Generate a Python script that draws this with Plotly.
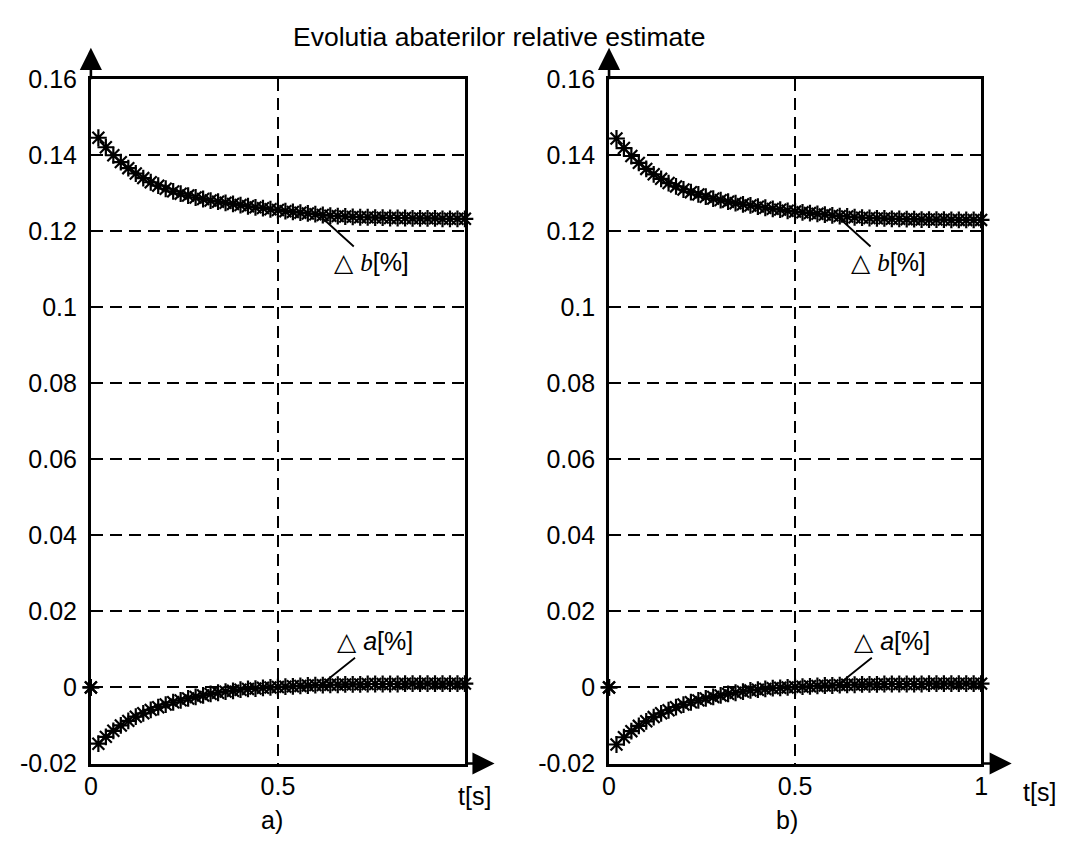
import plotly.graph_objects as go

# Sampling instants [s]
t = [0.00, 0.02, 0.04, 0.06, 0.08, 0.10, 0.12, 0.14, 0.16, 0.18, 0.20,
     0.22, 0.24, 0.26, 0.28, 0.30, 0.32, 0.34, 0.36, 0.38, 0.40,
     0.42, 0.44, 0.46, 0.48, 0.50, 0.52, 0.54, 0.56, 0.58, 0.60,
     0.62, 0.64, 0.66, 0.68, 0.70, 0.72, 0.74, 0.76, 0.78, 0.80,
     0.82, 0.84, 0.86, 0.88, 0.90, 0.92, 0.94, 0.96, 0.98, 1.00]

# Panel a) relative deviations of the estimates [%]
db_a = [0.0000,
        0.1445, 0.1420, 0.1399, 0.1381, 0.1365, 0.1351, 0.1339, 0.1328, 0.1319, 0.1311,
        0.1304, 0.1298, 0.1293, 0.1288, 0.1284, 0.1280, 0.1277, 0.1274, 0.1271, 0.1268,
        0.1265, 0.1262, 0.1260, 0.1257, 0.1255, 0.1252, 0.1250, 0.1248, 0.1246, 0.1244,
        0.1242, 0.1240, 0.1239, 0.1238, 0.1237, 0.1236, 0.1236, 0.1235, 0.1235, 0.1234,
        0.1234, 0.1234, 0.1233, 0.1233, 0.1233, 0.1233, 0.1232, 0.1232, 0.1232, 0.1232]
da_a = [0.0000,
        -0.0148, -0.0130, -0.0114, -0.0100, -0.0088, -0.0077, -0.0068, -0.0059, -0.0052, -0.0045,
        -0.0039, -0.0034, -0.0029, -0.0025, -0.0021, -0.0017, -0.0014, -0.0011, -0.0009, -0.0006,
        -0.0004, -0.0003, -0.0001, 0.0000, 0.0001, 0.0002, 0.0003, 0.0004, 0.0005, 0.0006,
        0.0006, 0.0007, 0.0007, 0.0008, 0.0008, 0.0008, 0.0009, 0.0009, 0.0009, 0.0009,
        0.0009, 0.0010, 0.0010, 0.0010, 0.0010, 0.0010, 0.0010, 0.0010, 0.0010, 0.0010]

# Panel b) relative deviations of the estimates [%]
db_b = [0.0000,
        0.1443, 0.1418, 0.1397, 0.1379, 0.1363, 0.1349, 0.1337, 0.1326, 0.1317, 0.1309,
        0.1302, 0.1296, 0.1290, 0.1285, 0.1281, 0.1277, 0.1273, 0.1270, 0.1267, 0.1264,
        0.1261, 0.1258, 0.1256, 0.1253, 0.1251, 0.1249, 0.1247, 0.1245, 0.1243, 0.1241,
        0.1239, 0.1238, 0.1236, 0.1235, 0.1234, 0.1233, 0.1233, 0.1232, 0.1232, 0.1231,
        0.1231, 0.1230, 0.1230, 0.1230, 0.1230, 0.1229, 0.1229, 0.1229, 0.1229, 0.1229]
da_b = [0.0000,
        -0.0150, -0.0131, -0.0115, -0.0101, -0.0089, -0.0078, -0.0068, -0.0060, -0.0052, -0.0045,
        -0.0039, -0.0034, -0.0029, -0.0025, -0.0021, -0.0017, -0.0014, -0.0011, -0.0008, -0.0006,
        -0.0004, -0.0002, -0.0001, 0.0000, 0.0001, 0.0002, 0.0003, 0.0004, 0.0005, 0.0005,
        0.0006, 0.0007, 0.0007, 0.0008, 0.0008, 0.0008, 0.0009, 0.0009, 0.0009, 0.0009,
        0.0009, 0.0009, 0.0010, 0.0010, 0.0010, 0.0010, 0.0010, 0.0010, 0.0010, 0.0010]

y_ticks = [-0.02, 0, 0.02, 0.04, 0.06, 0.08, 0.1, 0.12, 0.14, 0.16]
y_labels = ["-0.02", "0", "0.02", "0.04", "0.06", "0.08", "0.1", "0.12", "0.14", "0.16"]

W, H = 1073, 851
FONT = "Liberation Sans, Arial, sans-serif"

# pixel layout of the two panels
left_dom = [85 / W, 464 / W]
right_dom = [610 / W, 987 / W]
y_dom = [1 - 775 / H, 1 - 67 / H]

marker = dict(symbol="asterisk-open", size=14, color="black",
              line=dict(color="black", width=2.2))

fig = go.Figure()
for xa, ya, b_vals, a_vals in (("x", "y", db_a, da_a), ("x2", "y2", db_b, da_b)):
    for vals in (b_vals, a_vals):
        fig.add_trace(go.Scatter(x=t, y=vals, mode="markers", marker=marker,
                                 xaxis=xa, yaxis=ya, cliponaxis=False,
                                 showlegend=False, hoverinfo="skip"))

axis_common = dict(showline=True, linecolor="black", linewidth=2.8, mirror=True,
                   showgrid=True, gridcolor="black", gridwidth=2,
                   griddash="12px,7px", zeroline=False,
                   tickfont=dict(family=FONT, size=25, color="black"),
                   ticks="", fixedrange=True)

fig.update_layout(
    width=W, height=H,
    margin=dict(l=0, r=0, t=0, b=0),
    paper_bgcolor="white", plot_bgcolor="white",
    xaxis=dict(domain=left_dom, range=[0, 1], tickvals=[0, 0.5], ticktext=["0", "0.5"],
               anchor="y", ticklabelstandoff=-1, **axis_common),
    yaxis=dict(domain=y_dom, range=[-0.02, 0.16], tickvals=y_ticks, ticktext=y_labels,
               anchor="x", ticklabelstandoff=6, **axis_common),
    xaxis2=dict(domain=right_dom, range=[0, 1], tickvals=[0, 0.5, 1],
                ticktext=["0", "0.5", "1"], anchor="y2", ticklabelstandoff=-1, **axis_common),
    yaxis2=dict(domain=y_dom, range=[-0.02, 0.16], tickvals=y_ticks, ticktext=y_labels,
                anchor="x2", ticklabelstandoff=6, **axis_common),
)

txt = dict(family=FONT, size=25, color="black")
ann = []

# title
ann.append(dict(text="Evolutia abaterilor relative estimate", xref="paper", yref="paper",
                x=499 / W, y=1 - 24 / H, showarrow=False,
                font=dict(family=FONT, size=26.5, color="black"),
                xanchor="center", yanchor="middle"))

# axis arrows and axis labels for both panels
for xr, yr, x_tip_px, tlab_px, sub_px, sub in (("x", "y", 494, (474, 809), (268, 833), "a)"),
                                               ("x2", "y2", 1018, (1046, 804), (790, 833), "b)")):
    ann.append(dict(xref=xr + " domain", yref="paper", x=0, y=1 - 35 / H,
                    ax=0, ay=33, showarrow=True, arrowhead=2, arrowsize=1.7,
                    arrowwidth=2.6, arrowcolor="black", text=""))
    ann.append(dict(xref="paper", yref="paper", x=x_tip_px / W, y=1 - 775 / H,
                    ax=-31, ay=0, showarrow=True, arrowhead=2, arrowsize=1.7,
                    arrowwidth=2.6, arrowcolor="black", text=""))
    ann.append(dict(xref="paper", yref="paper", x=tlab_px[0] / W, y=1 - tlab_px[1] / H,
                    text="t[s]", showarrow=False, font=txt,
                    xanchor="center", yanchor="middle"))
    ann.append(dict(xref="paper", yref="paper", x=sub_px[0] / W, y=1 - sub_px[1] / H,
                    text=sub, showarrow=False, font=txt,
                    xanchor="center", yanchor="middle"))

    # curve labels with pointer lines
    ann.append(dict(xref=xr, yref=yr, x=0.612, y=0.1240, axref=xr, ayref=yr,
                    ax=0.75, ay=0.1117,
                    text="<span style='font-family:DejaVu Sans'>△</span> "
                         "<i><span style='font-family:Liberation Serif'>b</span></i>[%]",
                    showarrow=True, arrowhead=0, arrowwidth=1.8, arrowcolor="black",
                    standoff=0, font=txt))
    ann.append(dict(xref=xr, yref=yr, x=0.618, y=0.0009, axref=xr, ayref=yr,
                    ax=0.76, ay=0.0120,
                    text="<span style='font-family:DejaVu Sans'>△</span> <i>a</i>[%]",
                    showarrow=True, arrowhead=0, arrowwidth=1.8, arrowcolor="black",
                    standoff=0, font=txt))

fig.update_layout(annotations=ann)

fig.write_html("out.html")
